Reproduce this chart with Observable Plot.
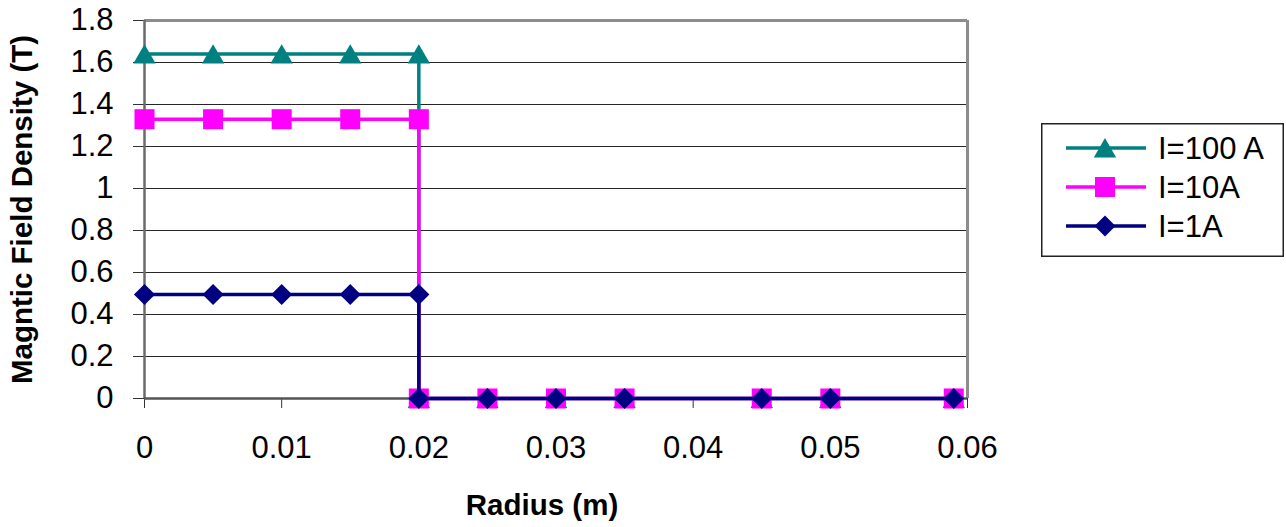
<!DOCTYPE html>
<html>
<head>
<meta charset="utf-8">
<script src="https://cdn.jsdelivr.net/npm/d3@7"></script>
<script src="https://cdn.jsdelivr.net/npm/@observablehq/plot@0.6"></script>
<style>
  html, body { margin: 0; padding: 0; background: #fff; }
  #wrap { position: relative; width: 1286px; height: 527px; }
  #legend { position: absolute; left: 1041px; top: 123px; }
</style>
</head>
<body>
<div id="wrap"></div>
<script>
// ---- data ----
const radius = [0, 0.005, 0.01, 0.015, 0.02, 0.02, 0.025, 0.03, 0.035, 0.045, 0.05, 0.059];
const b100A = [1.64, 1.64, 1.64, 1.64, 1.64, 0, 0, 0, 0, 0, 0, 0];
const b10A  = [1.33, 1.33, 1.33, 1.33, 1.33, 0, 0, 0, 0, 0, 0, 0];
const b1A   = [0.495, 0.495, 0.495, 0.495, 0.495, 0, 0, 0, 0, 0, 0, 0];
const seriesNames = ["I=100 A", "I=10A", "I=1A"];
const seriesColors = ["#008080", "#ff00ff", "#000080"];
const seriesSymbols = ["triangle", "square", "diamond2"];
const xTicks = [0, 0.01, 0.02, 0.03, 0.04, 0.05, 0.06];
const xTickLabels = ["0", "0.01", "0.02", "0.03", "0.04", "0.05", "0.06"];
const yTicks = [0, 0.2, 0.4, 0.6, 0.8, 1, 1.2, 1.4, 1.6, 1.8];
const yTickLabels = ["0", "0.2", "0.4", "0.6", "0.8", "1", "1.2", "1.4", "1.6", "1.8"];
const xTitle = "Radius (m)";
const yTitle = "Magntic Field Density (T)";

const seriesValues = [b100A, b10A, b1A];
const table = seriesValues.flatMap((vals, s) =>
  vals.map((v, i) => ({ series: seriesNames[s], s, x: radius[i], y: v }))
);

const font = "'Liberation Sans', Arial, Helvetica, sans-serif";
const symR = [8.3, 11.3, 9.5];
const symDy = [3, 0, 0];

const seriesMarks = seriesNames.flatMap((name, s) => {
  const d = table.filter(r => r.s === s);
  return [
    Plot.line(d, { x: "x", y: "y", stroke: seriesColors[s], strokeWidth: 3.5, strokeLinejoin: "miter", strokeLinecap: "butt" }),
    Plot.dot(d, { x: "x", y: "y", symbol: seriesSymbols[s], r: symR[s], fill: seriesColors[s], stroke: "none", dy: symDy[s] })
  ];
});

const chart = Plot.plot({
  width: 1286,
  height: 527,
  marginLeft: 144,
  marginRight: 319,
  marginTop: 20,
  marginBottom: 129,
  x: { domain: [0, 0.06] },
  y: { domain: [0, 1.8] },
  style: { fontFamily: font, fontSize: "31px", color: "#000", background: "#fff" },
  marks: [
    Plot.ruleY(yTicks.filter(v => v > 0 && v < 1.8), { stroke: "#262626", strokeWidth: 1.2 }),
    Plot.ruleY([1.8], { stroke: "#8c8c8c", strokeWidth: 3 }),
    Plot.ruleX([0.06], { stroke: "#8c8c8c", strokeWidth: 3 }),
    Plot.axisY({ ticks: yTicks, tickSize: 11, tickPadding: 20, tickFormat: (d) => yTickLabels[yTicks.indexOf(d)], label: null, stroke: "#333" }),
    Plot.axisX({ ticks: xTicks, tickSize: 10, tickPadding: 27, tickFormat: (d) => xTickLabels[xTicks.indexOf(d)], label: null, stroke: "#333" }),
    Plot.ruleX([0], { stroke: "#6a6a6a", strokeWidth: 2.5 }),
    Plot.ruleY([0], { stroke: "#555", strokeWidth: 2.5 }),
    ...seriesMarks,
    Plot.text([xTitle], { frameAnchor: "bottom", dy: 107, dx: -14, text: d => d, fontWeight: "bold", fontSize: 29.5, lineAnchor: "middle", textAnchor: "middle" }),
    Plot.text([yTitle], { frameAnchor: "left", dx: -122, rotate: -90, text: d => d, fontWeight: "bold", fontSize: 29.5, lineAnchor: "middle", textAnchor: "middle" })
  ]
});

const wrap = document.getElementById("wrap");
wrap.appendChild(chart);

// ---- legend (HTML/SVG overlay to the right of the plot) ----
const lw = 243, lh = 134;
const leg = d3.create("svg").attr("id", "legend").attr("width", lw).attr("height", lh)
  .style("font-family", font);
leg.append("rect").attr("x", 0.75).attr("y", 0.75).attr("width", lw - 1.5).attr("height", lh - 1.5)
  .attr("fill", "#fff").attr("stroke", "#222").attr("stroke-width", 1.5);
const rowY = [25, 64, 103];
seriesNames.forEach((name, s) => {
  const g = leg.append("g").attr("transform", `translate(0,${rowY[s]})`);
  g.append("line").attr("x1", 25).attr("x2", 105).attr("y1", 0).attr("y2", 0)
    .attr("stroke", seriesColors[s]).attr("stroke-width", 3.5);
  const symMap = { triangle: d3.symbolTriangle, square: d3.symbolSquare, diamond2: d3.symbolDiamond2 };
  g.append("path").attr("d", d3.symbol(symMap[seriesSymbols[s]], Math.PI * symR[s] * symR[s])())
    .attr("transform", `translate(64,${symDy[s]})`).attr("fill", seriesColors[s]);
  g.append("text").attr("x", 117).attr("y", 0).attr("dy", "0.35em")
    .attr("font-size", 31).attr("fill", "#000").text(name);
});
wrap.appendChild(leg.node());
</script>
</body>
</html>
